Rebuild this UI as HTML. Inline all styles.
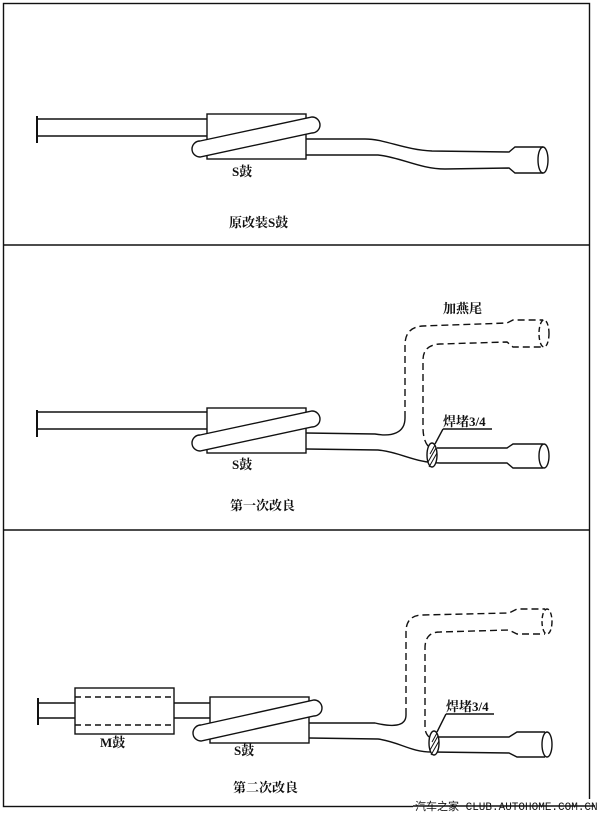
<!DOCTYPE html>
<html><head><meta charset="utf-8"><style>
html,body{margin:0;padding:0;background:#fff;}
svg{display:block;}
text{font-family:"Liberation Serif","Noto Serif CJK SC",serif;font-weight:bold;font-size:13px;fill:#111;}
</style></head><body>
<svg width="600" height="815" viewBox="0 0 600 815" xmlns="http://www.w3.org/2000/svg">
<g fill="none" stroke="#111" stroke-width="1.4">
<rect x="3.5" y="3.5" width="586" height="803"/>
<line x1="3" y1="245" x2="590" y2="245"/>
<line x1="3" y1="530" x2="590" y2="530"/>

<line x1="37" y1="116" x2="37" y2="143" stroke-width="2"/>
<line x1="37" y1="119" x2="207" y2="119"/>
<line x1="37" y1="136" x2="207" y2="136"/>
<rect x="207" y="114" width="99" height="45" fill="#fff"/>
<path d="M200,141 L312,117 A8,8 0 0 1 312,133 L200,157 A8,8 0 0 1 200,141 Z" fill="#fff"/>
<path d="M306,139 L365,139 C385,139 405,150 432,151 L509,152 L515,147 L543,147"/>
<path d="M306,155 L378,155 C400,157 420,169 445,169 L509,168 L515,173 L543,173"/>
<ellipse cx="543" cy="160" rx="5" ry="13"/>

<line x1="37" y1="410" x2="37" y2="437" stroke-width="2"/>
<line x1="37" y1="412" x2="207" y2="412"/>
<line x1="37" y1="429" x2="207" y2="429"/>
<rect x="207" y="408" width="99" height="45" fill="#fff"/>
<path d="M200,435 L312,411 A8,8 0 0 1 312,427 L200,451 A8,8 0 0 1 200,435 Z" fill="#fff"/>
<path d="M306,433 L375,434 C392,437 405,433 405,418"/>
<path d="M405,418 L405,345 Q405,327 423,326 L507,323 L513,320 L543,320" stroke-dasharray="7,4"/>
<path d="M428,446 Q423,440 423,427 L423,360 Q423,345 440,344 L507,342 L513,347 L543,347" stroke-dasharray="7,4"/>
<ellipse cx="544" cy="333.5" rx="5" ry="13.5" stroke-dasharray="5,3"/>
<path d="M437,448 L507,448 L513,444 L543,444"/>
<path d="M306,449 L378,450 C400,452 415,463 440,463 L507,463 L513,468 L543,468"/>
<ellipse cx="544" cy="456" rx="5" ry="12"/>
<ellipse cx="432" cy="455" rx="5" ry="12" fill="#fff"/>
<path d="M428,462 L436,448 M429,467 L437,453 M430,454 L435,445" stroke-width="1"/>
<line x1="435" y1="444" x2="443" y2="429"/>
<line x1="443" y1="429" x2="492" y2="429"/>

<line x1="38" y1="698" x2="38" y2="725" stroke-width="2"/>
<line x1="38" y1="703" x2="75" y2="703"/>
<line x1="38" y1="718" x2="75" y2="718"/>
<rect x="75" y="688" width="99" height="46" fill="#fff"/>
<line x1="75" y1="697" x2="174" y2="697" stroke-dasharray="6,4"/>
<line x1="75" y1="725" x2="174" y2="725" stroke-dasharray="6,4"/>
<line x1="174" y1="703" x2="210" y2="703"/>
<line x1="174" y1="718" x2="210" y2="718"/>
<rect x="210" y="697" width="99" height="46" fill="#fff"/>
<path d="M201,725 L314,700 A8,8 0 0 1 314,716 L201,741 A8,8 0 0 1 201,725 Z" fill="#fff"/>
<path d="M309,723 L375,723 C392,727 406,727 406,715"/>
<path d="M406,715 L406,632 Q406,615 423,615 L509,613 L517,609 L545,609" stroke-dasharray="7,4"/>
<path d="M429,737 Q425,733 425,727 L425,648 Q425,632 440,632 L509,630 L517,634 L545,634" stroke-dasharray="7,4"/>
<ellipse cx="547" cy="621.5" rx="5" ry="12.5" stroke-dasharray="5,3"/>
<path d="M438,737 L509,737 L517,732 L545,732"/>
<path d="M309,738 L378,739 C400,742 410,752 432,752 L509,753 L517,757 L545,757"/>
<ellipse cx="547" cy="744.5" rx="5" ry="12.5"/>
<ellipse cx="434" cy="743" rx="5" ry="12" fill="#fff"/>
<path d="M430,750 L438,736 M431,755 L439,741 M432,742 L437,733" stroke-width="1"/>
<line x1="437" y1="732" x2="446" y2="714"/>
<line x1="446" y1="714" x2="494" y2="714"/>
</g>

<text x="232" y="176">S鼓</text>
<text x="229" y="227">原改装S鼓</text>

<text x="443" y="313">加燕尾</text>
<text x="443" y="426">焊堵3/4</text>
<text x="232" y="469">S鼓</text>
<text x="230" y="510">第一次改良</text>

<text x="446" y="711">焊堵3/4</text>
<text x="100" y="747">M鼓</text>
<text x="234" y="755">S鼓</text>
<text x="233" y="792">第二次改良</text>

<rect x="413" y="799" width="182" height="14" fill="#fff"/>
<line x1="413" y1="806" x2="595" y2="806" stroke="#111" stroke-width="1.4"/>
<text x="415" y="810" style="font-family:'Liberation Mono','Noto Sans CJK SC',monospace;font-weight:normal;font-size:11px;">汽车之家 CLUB.AUTOHOME.COM.CN</text>
</svg>
</body></html>
